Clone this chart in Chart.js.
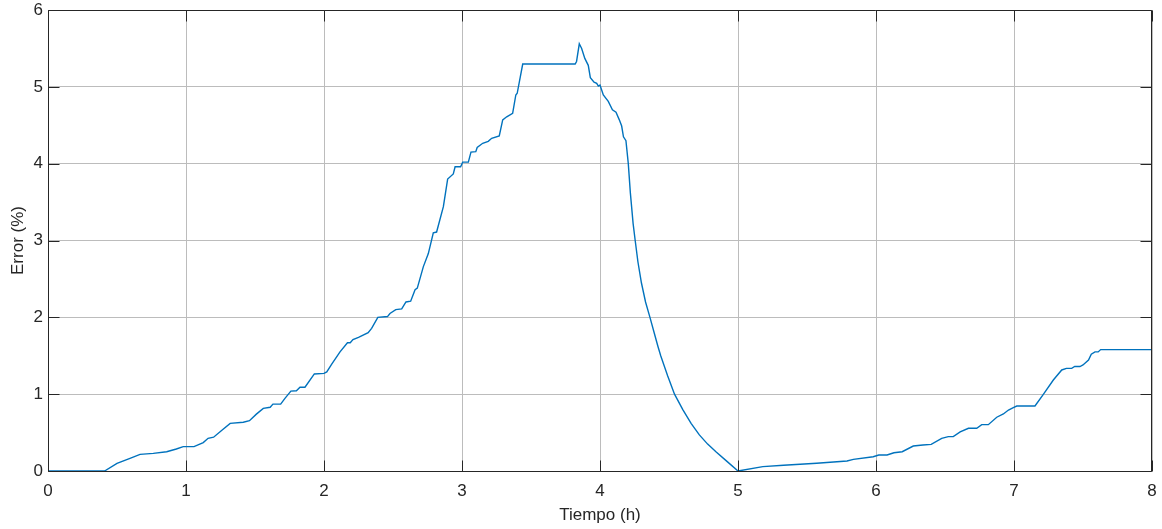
<!DOCTYPE html>
<html>
<head>
<meta charset="utf-8">
<title>Error (%) vs Tiempo (h)</title>
<script src="https://cdn.jsdelivr.net/npm/chart.js@4"></script>
<style>
  html, body { margin: 0; padding: 0; background: #ffffff; }
  #wrap { width: 1162px; height: 529px; position: relative; }
</style>
</head>
<body>
<div id="wrap"><canvas id="chart"></canvas></div>
<script>
// Time axis (hours) and error (%) samples of the trace
const hours = [
  0, 0.41, 0.50, 0.594, 0.667, 0.763, 0.86, 0.93, 0.98, 1.058,
  1.125, 1.16, 1.20, 1.26, 1.32, 1.415, 1.46, 1.51, 1.56, 1.61,
  1.63, 1.686, 1.717, 1.76, 1.80, 1.826, 1.862, 1.93, 2.00, 2.02,
  2.056, 2.116, 2.17, 2.19, 2.21, 2.25, 2.32, 2.345, 2.39, 2.46,
  2.478, 2.52, 2.563, 2.594, 2.628, 2.66, 2.676, 2.72, 2.756, 2.792,
  2.816, 2.865, 2.896, 2.937, 2.95, 2.99, 3.005, 3.046, 3.065, 3.10,
  3.11, 3.15, 3.19, 3.215, 3.27, 3.295, 3.324, 3.367, 3.39, 3.40,
  3.44, 3.82, 3.83, 3.85, 3.867, 3.89, 3.915, 3.93, 3.957, 3.976,
  3.988, 4.0, 4.024, 4.06, 4.09, 4.116, 4.14, 4.157, 4.17, 4.188,
  4.205, 4.22, 4.24, 4.255, 4.275, 4.30, 4.33, 4.362, 4.40, 4.42,
  4.44, 4.49, 4.54, 4.60, 4.66, 4.72, 4.78, 4.84, 4.92, 5.0,
  5.18, 5.33, 5.57, 5.79, 5.836, 5.98, 6.02,
  6.08, 6.13, 6.19, 6.27, 6.34, 6.40, 6.476, 6.524, 6.56, 6.61,
  6.67, 6.73, 6.766, 6.814, 6.875, 6.923, 6.96, 6.995, 7.02, 7.152,
  7.21, 7.285, 7.346, 7.38, 7.418, 7.44, 7.478, 7.50, 7.54, 7.56,
  7.587, 7.61, 7.628, 8.0
];
const errorPct = [
  0, 0, 0.10, 0.165, 0.217, 0.23, 0.25, 0.286, 0.317, 0.317,
  0.37, 0.425, 0.44, 0.53, 0.62, 0.634, 0.655, 0.74, 0.815, 0.83,
  0.87, 0.87, 0.946, 1.04, 1.045, 1.09, 1.09, 1.263, 1.27, 1.29,
  1.39, 1.55, 1.67, 1.67, 1.71, 1.74, 1.80, 1.857, 2.0, 2.01,
  2.05, 2.10, 2.11, 2.20, 2.21, 2.36, 2.38, 2.66, 2.83, 3.10,
  3.11, 3.44, 3.80, 3.866, 3.96, 3.96, 4.02, 4.02, 4.15, 4.156,
  4.21, 4.265, 4.29, 4.33, 4.36, 4.57, 4.61, 4.655, 4.894, 4.916,
  5.297, 5.297, 5.33, 5.56, 5.50, 5.37, 5.28, 5.12, 5.06, 5.045,
  5.01, 5.024, 4.894, 4.81, 4.70, 4.67, 4.57, 4.49, 4.35, 4.30,
  4.00, 3.62, 3.22, 3.00, 2.72, 2.45, 2.20, 2.00, 1.75, 1.62,
  1.50, 1.24, 1.00, 0.80, 0.62, 0.47, 0.35, 0.25, 0.125, 0,
  0.057, 0.074, 0.10, 0.13, 0.152, 0.186, 0.208,
  0.208, 0.238, 0.251, 0.325, 0.338, 0.347, 0.425, 0.447, 0.447, 0.508,
  0.556, 0.556, 0.603, 0.603, 0.70, 0.742, 0.794, 0.824, 0.846, 0.846,
  0.99, 1.184, 1.315, 1.336, 1.336, 1.36, 1.36, 1.38, 1.445, 1.52,
  1.55, 1.55, 1.58, 1.58
];
const xTicks = [0, 1, 2, 3, 4, 5, 6, 7, 8];
const yTicks = [0, 1, 2, 3, 4, 5, 6];
const xTitle = 'Tiempo (h)';
const yTitle = 'Error (%)';

const points = hours.map((h, i) => ({ x: h, y: errorPct[i] }));

const AXIS_COLOR = '#262626';
const GRID_COLOR = '#bcbcbc';
const FONT = { family: "'Liberation Sans', Arial, Helvetica, sans-serif", size: 17 };

// Closed box around the plot with inward tick marks on all four sides
const boxTicks = {
  id: 'boxTicks',
  afterDatasetsDraw(chart) {
    const { ctx, chartArea: a, scales } = chart;
    const len = 11;
    const L = Math.round(a.left) + 0.5, R = Math.round(a.right) - 0.5;
    const T = Math.round(a.top) + 0.5, B = Math.round(a.bottom) + 0.5;
    ctx.save();
    ctx.strokeStyle = AXIS_COLOR;
    ctx.lineWidth = 1;
    ctx.beginPath();
    scales.x.ticks.forEach(t => {
      const px = Math.round(scales.x.getPixelForValue(t.value)) + 0.5;
      ctx.moveTo(px, B); ctx.lineTo(px, B - len);
      ctx.moveTo(px, T); ctx.lineTo(px, T + len);
    });
    scales.y.ticks.forEach(t => {
      const py = Math.round(scales.y.getPixelForValue(t.value)) + 0.5;
      ctx.moveTo(L, py); ctx.lineTo(L + len, py);
      ctx.moveTo(R, py); ctx.lineTo(R - len, py);
    });
    ctx.stroke();
    ctx.beginPath();
    ctx.rect(L, T, R - L, B - T);
    ctx.stroke();
    ctx.restore();
  }
};

// Keep the plot box at fixed margins: edge labels may overhang the box
function noEdgePadding(scale) {
  scale.paddingTop = 0;
  scale.paddingBottom = 0;
  scale.paddingLeft = 0;
  scale.paddingRight = 0;
}

new Chart(document.getElementById('chart'), {
  type: 'line',
  data: {
    datasets: [{
      data: points,
      borderColor: '#0072BD',
      borderWidth: 1.4,
      pointRadius: 0,
      tension: 0,
      fill: false
    }]
  },
  options: {
    responsive: true,
    maintainAspectRatio: false,
    animation: false,
    events: [],
    layout: { padding: { top: 10, right: 10, left: 0, bottom: 0 } },
    plugins: { legend: { display: false }, tooltip: { enabled: false } },
    scales: {
      x: {
        type: 'linear',
        min: 0, max: 8,
        afterBuildTicks(scale) { scale.ticks = xTicks.map(v => ({ value: v })); },
        afterFit(scale) { scale.height = 58; noEdgePadding(scale); },
        ticks: { color: AXIS_COLOR, font: FONT, padding: 10, maxRotation: 0 },
        grid: { color: GRID_COLOR, drawTicks: false, lineWidth: 1 },
        border: { display: false },
        title: { display: true, text: xTitle, color: AXIS_COLOR, font: FONT, padding: { top: 0, bottom: 3 } }
      },
      y: {
        type: 'linear',
        min: 0, max: 6,
        afterBuildTicks(scale) { scale.ticks = yTicks.map(v => ({ value: v })); },
        afterFit(scale) { scale.width = 48; noEdgePadding(scale); },
        ticks: { color: AXIS_COLOR, font: FONT, padding: 5 },
        grid: { color: GRID_COLOR, drawTicks: false, lineWidth: 1 },
        border: { display: false },
        title: { display: true, text: yTitle, color: AXIS_COLOR, font: FONT, padding: { top: 8, bottom: 0 } }
      }
    }
  },
  plugins: [boxTicks]
});
</script>
</body>
</html>
